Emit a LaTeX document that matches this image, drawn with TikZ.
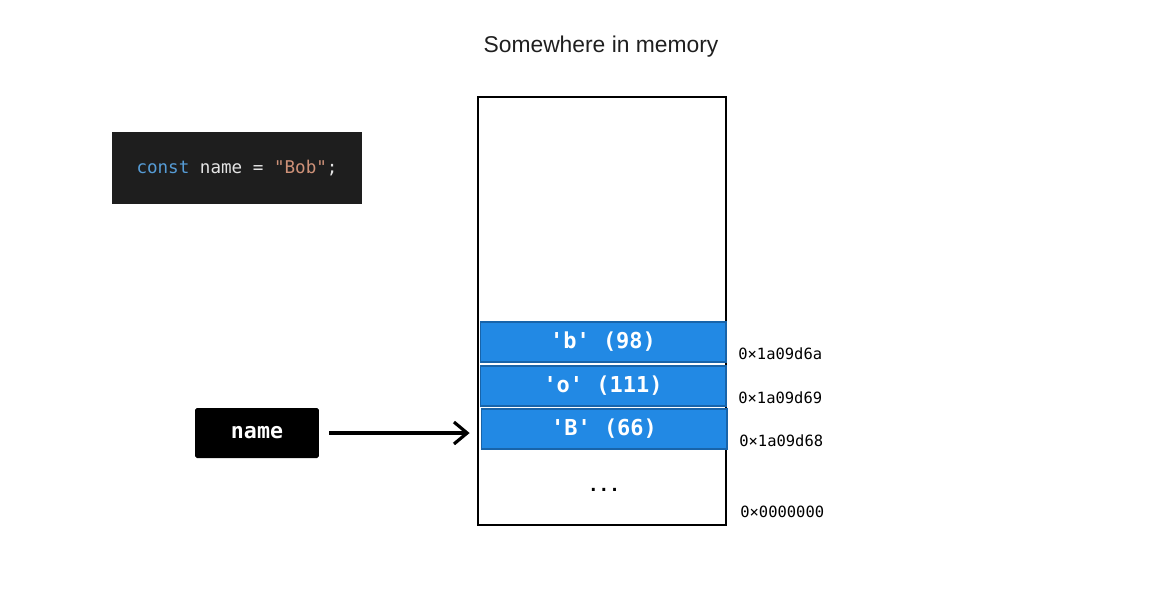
\documentclass[tikz,border=0pt]{standalone}
\usepackage{fontspec}
\setmainfont{Liberation Sans}
\setmonofont{DejaVu Sans Mono}
\usetikzlibrary{arrows.meta}

\definecolor{cellblue}{RGB}{34,137,228}
\definecolor{cellline}{RGB}{24,100,170}
\definecolor{codebg}{RGB}{30,30,30}
\definecolor{codekw}{RGB}{86,156,214}
\definecolor{codestr}{RGB}{206,145,120}
\definecolor{codetxt}{RGB}{228,228,228}

\tikzset{
  cell/.style={fill=cellblue,draw=cellline,line width=0.6pt,
    minimum width=4.92cm,minimum height=0.8cm,inner sep=0pt,
    text=white,font=\ttfamily\bfseries\fontsize{12.5}{14}\selectfont},
  addr/.style={anchor=west,inner sep=0pt,
    font=\ttfamily\fontsize{8.8}{10}\selectfont}
}

\begin{document}
\begin{tikzpicture}[x=0.02cm,y=-0.02cm,>={Straight Barb[length=7.5pt,width=12.5pt]}]
  \useasboundingbox (0,0) rectangle (1165,603);
  %
  % Title
  \node[text=black!88] (title) at (601,47) {\fontsize{13}{15}\selectfont Somewhere in memory};
  %
  % Code snippet
  \node[fill=codebg,minimum width=5cm,minimum height=1.44cm,inner sep=0pt,
    font=\ttfamily\fontsize{10}{11}\selectfont] (code) at (237,168)
    {\textcolor{codekw}{const} \textcolor{codetxt}{name = }\textcolor{codestr}{"Bob"}\textcolor{codetxt}{;}};
  %
  % Memory block
  \node[draw,line width=1pt,minimum width=4.96cm,minimum height=8.56cm,
    inner sep=0pt] (memory) at (602,311) {};
  \node[cell] (cellb) at (603,342) {'b' (98)};
  \node[cell] (cello) at (603,386) {'o' (111)};
  \node[cell] (cellB) at (604,429) {'B' (66)};
  \node[font=\ttfamily\bfseries\fontsize{10}{12}\selectfont] (dots) at (604,490) {...};
  %
  % Addresses
  \node[addr] (addrb) at (738,354) {0×1a09d6a};
  \node[addr] (addro) at (738,398) {0×1a09d69};
  \node[addr] (addrB) at (739,441) {0×1a09d68};
  \node[addr] (addrz) at (740,512) {0×0000000};
  %
  % Variable
  \node[fill=black,rounded corners=1pt,minimum width=2.48cm,minimum height=1cm,
    inner sep=0pt,text=white,font=\ttfamily\bfseries\fontsize{12.3}{14}\selectfont]
    (var) at (257,433) {name};
  \draw[->,line width=1.8pt,shorten <=5.7pt,shorten >=6.2pt]
    (var.east) -- (var.east -| cellB.west);
  %
\end{tikzpicture}
\end{document}
